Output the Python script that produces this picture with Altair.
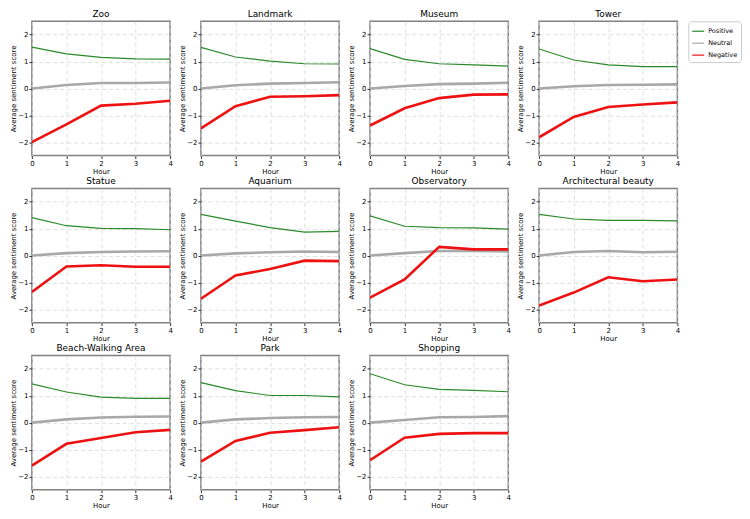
import altair as alt
import pandas as pd

HOURS = [0, 1, 2, 3, 4]
PLACES = ["Zoo", "Landmark", "Museum", "Tower",
          "Statue", "Aquarium", "Observatory", "Architectural beauty",
          "Beach-Walking Area", "Park", "Shopping"]

POSITIVE = [
    [1.54, 1.29, 1.16, 1.10, 1.09],
    [1.53, 1.17, 1.02, 0.92, 0.91],
    [1.48, 1.08, 0.92, 0.88, 0.83],
    [1.47, 1.06, 0.88, 0.81, 0.81],
    [1.41, 1.11, 1.01, 1.00, 0.96],
    [1.53, 1.28, 1.04, 0.87, 0.90],
    [1.48, 1.09, 1.04, 1.03, 0.98],
    [1.53, 1.36, 1.31, 1.31, 1.29],
    [1.44, 1.14, 0.95, 0.90, 0.90],
    [1.49, 1.19, 1.01, 1.01, 0.96],
    [1.82, 1.41, 1.24, 1.20, 1.15],
]
NEUTRAL = [
    [0.00, 0.13, 0.20, 0.20, 0.22],
    [0.00, 0.12, 0.18, 0.20, 0.23],
    [0.00, 0.09, 0.16, 0.18, 0.21],
    [0.00, 0.08, 0.13, 0.14, 0.15],
    [0.00, 0.09, 0.13, 0.15, 0.16],
    [0.00, 0.08, 0.12, 0.15, 0.13],
    [0.00, 0.09, 0.17, 0.17, 0.15],
    [0.00, 0.13, 0.17, 0.12, 0.14],
    [0.00, 0.12, 0.19, 0.22, 0.23],
    [0.00, 0.12, 0.17, 0.20, 0.21],
    [0.00, 0.10, 0.20, 0.21, 0.24],
]
NEGATIVE = [
    [-2.00, -1.34, -0.64, -0.57, -0.46],
    [-1.49, -0.66, -0.31, -0.29, -0.25],
    [-1.38, -0.74, -0.36, -0.23, -0.22],
    [-1.82, -1.06, -0.69, -0.60, -0.52],
    [-1.36, -0.41, -0.36, -0.42, -0.42],
    [-1.61, -0.74, -0.50, -0.19, -0.21],
    [-1.57, -0.89, 0.32, 0.23, 0.23],
    [-1.86, -1.38, -0.81, -0.96, -0.89],
    [-1.60, -0.79, -0.57, -0.36, -0.27],
    [-1.45, -0.68, -0.38, -0.28, -0.17],
    [-1.40, -0.56, -0.42, -0.39, -0.39],
]

SENTIMENTS = ["Positive", "Neutral", "Negative"]
COLORS = ["#2a8a2a", "#a8a8a8", "#ee1111"]
WIDTHS = [1.2, 2.6, 2.6]

rows = []
for i, place in enumerate(PLACES):
    for s, series in zip(SENTIMENTS, [POSITIVE[i], NEUTRAL[i], NEGATIVE[i]]):
        for h, v in zip(HOURS, series):
            rows.append({"place": place, "sentiment": s, "hour": h, "score": v})
df = pd.DataFrame(rows)

FONT = "DejaVu Sans"


def panel(place):
    base = alt.Chart(df).transform_filter(alt.datum.place == place)
    x = alt.X("hour:Q", scale=alt.Scale(domain=[0, 4], nice=False),
              axis=alt.Axis(values=HOURS, title="Hour", format="d"))
    y = alt.Y("score:Q", scale=alt.Scale(domain=[-2.5, 2.5], nice=False),
              axis=alt.Axis(values=[-2, -1, 0, 1, 2], title="Average sentiment score", format="d"))
    color = alt.Color("sentiment:N",
                      scale=alt.Scale(domain=SENTIMENTS, range=COLORS),
                      legend=alt.Legend(title=None, orient="right", symbolType="stroke",
                                        symbolStrokeWidth=1.2, symbolSize=144,
                                        labelFontSize=6.5, labelFont=FONT, labelOffset=3,
                                        strokeColor="#cccccc", padding=3, cornerRadius=3,
                                        rowPadding=1, offset=8))
    layers = []
    for s, w in zip(SENTIMENTS, WIDTHS):
        layers.append(
            base.transform_filter(alt.datum.sentiment == s)
            .mark_line(strokeWidth=w, clip=True)
            .encode(x=x, y=y, color=color)
        )
    return alt.layer(*layers).properties(
        width=139, height=135,
        title=alt.TitleParams(place, fontSize=9, fontWeight="normal", font=FONT, offset=2, color="#000000"),
    )


chart = alt.concat(*[panel(p) for p in PLACES], columns=4,
                   spacing={"row": 33, "column": 31}, bounds="flush").properties(
    padding={"left": 0, "top": 0, "right": 0, "bottom": 0},
    autosize=alt.AutoSizeParams(type="pad"),
).configure_view(
    stroke="#808080", strokeWidth=1.5
).configure_axis(
    domain=False,
    grid=True,
    gridDash=[4, 3],
    gridColor="#d5d5d5",
    gridWidth=0.8,
    tickColor="#333333",
    tickSize=3,
    labelFontSize=7,
    labelFont=FONT,
    labelColor="#000000",
    labelPadding=1,
    titleFontSize=7,
    titleFont=FONT,
    titleFontWeight="normal",
    titleColor="#000000",
    titlePadding=1,
).configure_axisX(
    labelAngle=0,
    labelFlush=False,
)

chart.save("out.html", embed_options={"renderer": "svg", "actions": False})
